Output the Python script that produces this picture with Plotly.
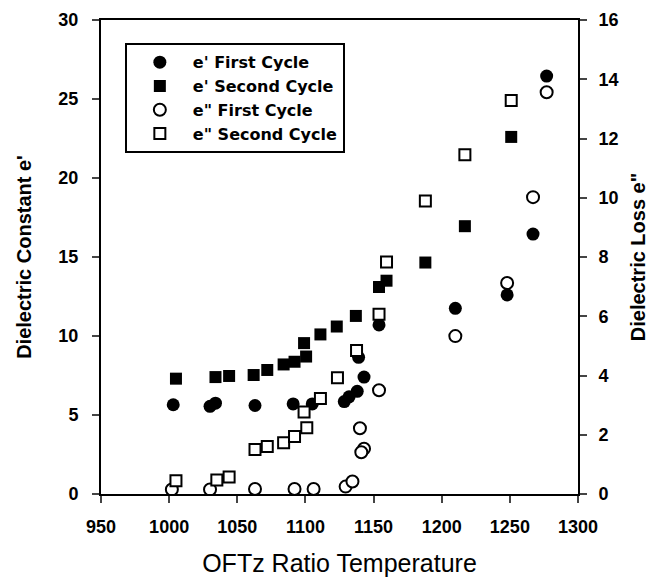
import plotly.graph_objects as go

# e' First Cycle (filled circles, left axis)
e1_first_x = [1003, 1030, 1034, 1063, 1091, 1105, 1128.5, 1132, 1138, 1143, 1139, 1154, 1210, 1248, 1267, 1277]
e1_first_y = [5.65, 5.55, 5.75, 5.6, 5.7, 5.7, 5.85, 6.15, 6.5, 7.4, 8.65, 10.7, 11.75, 12.6, 16.45, 26.45]

# e' Second Cycle (filled squares, left axis)
e1_second_x = [1005, 1034, 1044, 1062, 1072, 1084, 1092, 1100.5, 1099, 1111, 1123, 1137, 1154, 1159.5, 1188, 1217, 1251]
e1_second_y = [7.3, 7.4, 7.47, 7.53, 7.85, 8.2, 8.37, 8.7, 9.55, 10.1, 10.6, 11.27, 13.1, 13.5, 14.65, 16.95, 22.6]

# e" First Cycle (open circles, right axis)
e2_first_x = [1002, 1030, 1063, 1092, 1106, 1129.5, 1134.5, 1140, 1143, 1141, 1154, 1210, 1248, 1267, 1277]
e2_first_y = [0.15, 0.15, 0.17, 0.17, 0.17, 0.25, 0.42, 2.22, 1.53, 1.41, 3.5, 5.33, 7.12, 10.02, 13.56]

# e" Second Cycle (open squares, right axis)
e2_second_x = [1005, 1035, 1044, 1063, 1072, 1084, 1092, 1101, 1099, 1111, 1123.5, 1137.5, 1154, 1159.5, 1188, 1217, 1251]
e2_second_y = [0.45, 0.47, 0.57, 1.5, 1.6, 1.73, 1.94, 2.24, 2.77, 3.22, 3.92, 4.84, 6.07, 7.83, 9.89, 11.45, 13.28]

x_ticks = [950, 1000, 1050, 1100, 1150, 1200, 1250, 1300]
left_ticks = [0, 5, 10, 15, 20, 25, 30]
right_ticks = [0, 2, 4, 6, 8, 10, 12, 14, 16]

FONT = "Liberation Sans, Arial, sans-serif"

fig = go.Figure()
fig.add_trace(go.Scatter(x=e1_first_x, y=e1_first_y, mode="markers", name="e' First Cycle",
                         marker=dict(symbol="circle", size=13, color="black", line=dict(width=0))))
fig.add_trace(go.Scatter(x=e1_second_x, y=e1_second_y, mode="markers", name="e' Second Cycle",
                         marker=dict(symbol="square", size=12, color="black", line=dict(width=0))))
fig.add_trace(go.Scatter(x=e2_first_x, y=e2_first_y, mode="markers", name='e" First Cycle', yaxis="y2",
                         marker=dict(symbol="circle", size=12, color="white", line=dict(width=2, color="black"))))
fig.add_trace(go.Scatter(x=e2_second_x, y=e2_second_y, mode="markers", name='e" Second Cycle', yaxis="y2",
                         marker=dict(symbol="square", size=11, color="white", line=dict(width=2, color="black"))))

fig.update_layout(
    width=649, height=569,
    margin=dict(l=93, r=79, t=12, b=83, autoexpand=False),
    paper_bgcolor="white", plot_bgcolor="white",
    font=dict(family=FONT, color="black"),
    showlegend=True,
    legend=dict(x=0.05, y=0.951, xanchor="left", yanchor="top",
                bgcolor="white", bordercolor="black", borderwidth=2,
                font=dict(family="DejaVu Sans, sans-serif", size=16, weight="bold", color="black"),
                itemwidth=56, tracegroupgap=0),
    xaxis=dict(range=[950, 1300], tickvals=x_ticks, ticks="outside", ticklen=7, tickwidth=2,
               showline=True, linewidth=2, linecolor="black", mirror=True, showgrid=False, zeroline=False,
               ticklabelstandoff=8, automargin=False,
               tickfont=dict(family=FONT, size=18, weight="bold"),
               title=dict(text="OFTz Ratio Temperature", font=dict(family=FONT, size=25), standoff=22)),
    yaxis=dict(range=[0, 30], tickvals=left_ticks, ticks="outside", ticklen=7, tickwidth=2,
               showline=True, linewidth=2, linecolor="black", showgrid=False, zeroline=False,
               ticklabelstandoff=10, automargin=False,
               tickfont=dict(family=FONT, size=18, weight="bold"),
               title=dict(text="Dielectric Constant e'", font=dict(family=FONT, size=20, weight="bold"), standoff=21)),
    yaxis2=dict(range=[0, 16], tickvals=right_ticks, overlaying="y", side="right", ticks="outside",
                ticklen=7, tickwidth=2, showline=True, linewidth=2, linecolor="black",
                showgrid=False, zeroline=False, ticklabelstandoff=8, automargin=False,
                tickfont=dict(family=FONT, size=18, weight="bold"),
                title=dict(text='Dielectric Loss e"', font=dict(family=FONT, size=20, weight="bold"), standoff=13)),
)

fig.write_html("out.html")
